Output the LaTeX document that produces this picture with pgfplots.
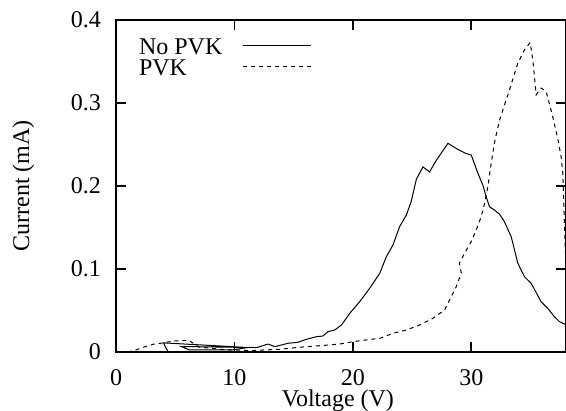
\documentclass[border=0pt]{standalone}
\usepackage{fontspec}
\setmainfont{Liberation Serif}
\usepackage{pgfplots}
\pgfplotsset{compat=1.18}

\begin{document}
\begin{tikzpicture}
\begin{axis}[
  name=ax,
  scale only axis,
  width=225pt, height=166pt,
  xmin=0, xmax=38, ymin=0, ymax=0.4,
  xtick={0,10,20,30}, ytick={0,0.1,0.2,0.3,0.4},
  tick align=inside,
  major tick length=5pt,
  axis line style={line width=0.8pt},
  every tick/.style={black, line width=0.8pt},
  font=\fontsize{12}{14}\selectfont,
  /pgf/number format/assume math mode=true,
  xticklabel style={yshift=-5pt},
  yticklabel style={xshift=-4pt},
  xlabel={Voltage (V)},
  ylabel={Current (mA)},
  xlabel style={at={(axis description cs:0.493,-0.165)}, anchor=base},
  ylabel style={at={(axis description cs:-0.193,0.5)}, anchor=base, rotate=0},
  clip=true,
  legend plot pos=right,
  legend cell align=left,
  legend image code/.code={\draw[#1] (0pt,1pt) -- (34pt,1pt);},
  legend style={draw=none, fill=none, at={(axis description cs:0.037,0.962)},
    anchor=north west, row sep=0pt, column sep=10pt,
    nodes={inner sep=0pt, text height=8.5pt, text depth=2pt}},
]
  % No PVK
  \addplot[black, line width=0.5pt] coordinates {
    (4.4,0.000) (4.0,0.011) (11.0,0.0055) (5.5,0.0066) (6.2,0.0025) (9.8,0.0025)
    (11.3,0.0057) (11.87,0.0052) (12.84,0.0096) (13.41,0.0064) (14.53,0.0105)
    (15.37,0.0117) (16.08,0.0153) (16.92,0.0184) (17.48,0.0193) (17.9,0.0245)
    (18.47,0.0265) (19.04,0.0325) (19.74,0.0466) (20.58,0.0606) (21.42,0.0767)
    (22.27,0.0948) (22.83,0.1149) (23.39,0.129) (23.95,0.151) (24.52,0.165)
    (24.94,0.182) (25.36,0.208) (25.92,0.223) (26.48,0.217) (27.05,0.231)
    (28.03,0.2514) (28.87,0.244) (29.52,0.2394) (30.0,0.2373) (30.56,0.2153)
    (30.98,0.201) (31.26,0.187) (31.54,0.175) (31.96,0.171) (32.39,0.166)
    (32.8,0.157) (33.37,0.139) (33.93,0.107) (34.49,0.0907) (35.06,0.0827)
    (35.9,0.0606) (36.46,0.0526) (37.02,0.0425) (37.45,0.0365) (37.87,0.0337)
    (38.0,0.033)
  };
  \addlegendentry{No PVK}
  % PVK
  \addplot[black, line width=0.5pt, dash pattern=on 2pt off 2pt] coordinates {
    (1.0,0.0) (1.6,0.002) (2.3,0.0057) (3.15,0.0093) (4.0,0.011) (4.83,0.0133)
    (5.68,0.0136) (6.1,0.0145) (7.0,0.006) (9.0,0.003) (11.3,0.0016)
    (12.4,0.0024) (13.8,0.0032) (15.5,0.0057) (17.2,0.0076) (18.9,0.0096)
    (20.0,0.0124) (21.1,0.0145) (22.27,0.0165) (23.39,0.0225) (24.52,0.0265)
    (25.64,0.0325) (26.76,0.0406) (27.75,0.0506) (28.17,0.0627) (28.73,0.0787)
    (29.16,0.0948) (29.0,0.107) (29.43,0.119) (30.0,0.133) (30.42,0.147)
    (30.84,0.163) (31.12,0.179) (31.4,0.199) (31.7,0.229) (32.0,0.255)
    (32.39,0.2795) (33.23,0.316) (33.93,0.348) (34.49,0.364) (34.97,0.3727)
    (35.2,0.352) (35.48,0.31) (35.9,0.318) (36.32,0.314) (36.88,0.2835)
    (37.3,0.2575) (37.59,0.235) (37.73,0.215) (37.85,0.16) (37.95,0.12)
    (38.1,0.09)
  };
  \addlegendentry{PVK}
\end{axis}
\pgfresetboundingbox
\path ([shift={(-58pt,-29.5pt)}]ax.south west) rectangle ([shift={(0pt,10pt)}]ax.north east);
\end{tikzpicture}
\end{document}
